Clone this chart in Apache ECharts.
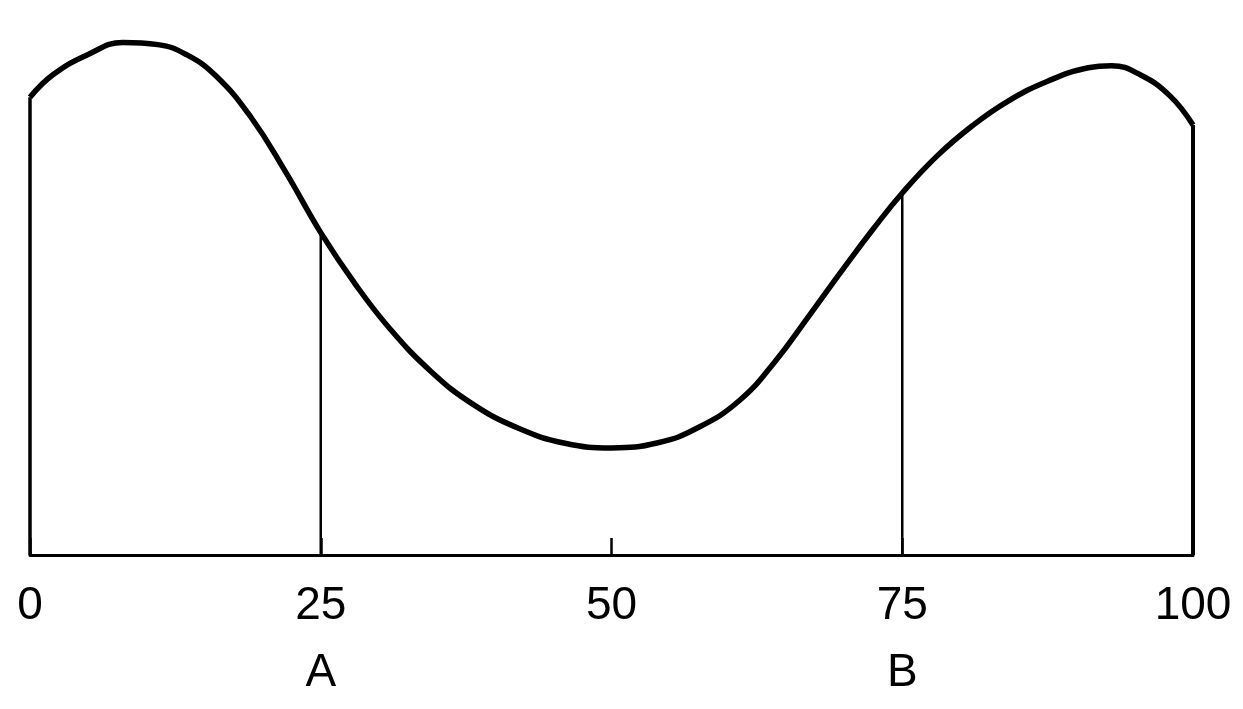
<!DOCTYPE html>
<html>
<head>
<meta charset="utf-8">
<script src="https://cdn.jsdelivr.net/npm/echarts@6/dist/echarts.min.js"></script>
<style>
html,body{margin:0;padding:0;background:#fff;}
#chart{width:1243px;height:709px;}
</style>
</head>
<body>
<div id="chart"></div>
<script>
// Curve (x position, height above baseline)
var curveX = [0, 2, 5, 8, 11, 13.5, 16, 19, 22, 25, 28, 31, 34.5, 38, 42, 46, 50, 54, 57.5, 61, 64, 67, 70, 72.5, 75, 78, 81, 84, 87.5, 91, 93, 95.5, 98, 100];
var curveY = [88.9, 93.3, 97.2, 99.5, 99.1, 97.1, 93.0, 85.0, 74.3, 62.6, 52.5, 43.8, 35.6, 29.4, 24.6, 21.7, 20.8, 21.8, 24.8, 30.0, 37.4, 46.5, 55.8, 63.3, 70.3, 77.5, 83.3, 88.0, 92.0, 94.6, 95.0, 93.2, 89.2, 83.5];
// Vertical drop lines
var dropX = [0, 25, 75, 100];
var dropY = [88.9, 62.6, 70.3, 83.5];
var dropWidth = [3.5, 2.5, 2.5, 4];
// Tick labels and point names
var tickValues = [0, 25, 50, 75, 100];
var tickLabels = ['0', '25', '50', '75', '100'];
var pointNames = ['', 'A', '', 'B', ''];

var chart = echarts.init(document.getElementById('chart'));
var series = [{
  type: 'line',
  data: curveX.map(function (x, i) { return [x, curveY[i]]; }),
  smooth: 0.45,
  showSymbol: false,
  lineStyle: { color: '#000', width: 5.5 },
  z: 3
}];
dropX.forEach(function (x, i) {
  series.push({
    type: 'line',
    data: [[x, 0], [x, dropY[i]]],
    showSymbol: false,
    lineStyle: { color: '#000', width: dropWidth[i] },
    z: 2
  });
});

chart.setOption({
  animation: false,
  backgroundColor: '#fff',
  grid: { left: 30, right: 50, top: 40, bottom: 154 },
  xAxis: {
    type: 'value', min: 0, max: 100, interval: 25,
    splitLine: { show: false },
    axisLine: { show: true, onZero: false, lineStyle: { color: '#000', width: 3 } },
    axisTick: { show: true, inside: true, length: 17, lineStyle: { color: '#000', width: 2.5 } },
    axisLabel: {
      margin: 18,
      color: '#000',
      fontFamily: '"Liberation Sans", sans-serif',
      fontSize: 46,
      lineHeight: 67,
      formatter: function (v) {
        var i = tickValues.indexOf(v);
        if (i < 0) return '';
        return pointNames[i] ? tickLabels[i] + '\n' + pointNames[i] : tickLabels[i];
      }
    }
  },
  yAxis: { type: 'value', min: 0, max: 100, show: false },
  series: series
});
</script>
</body>
</html>
